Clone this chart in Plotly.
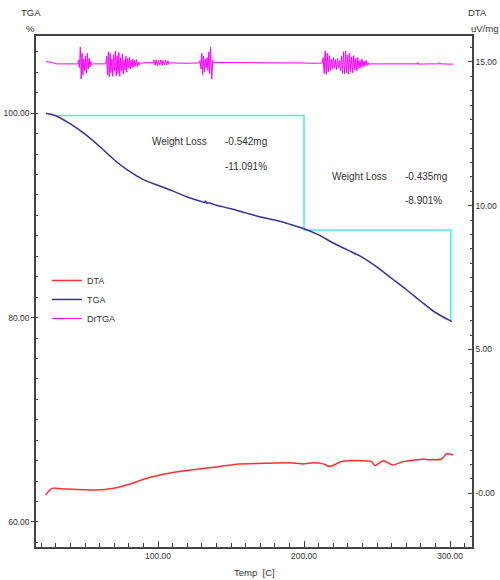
import plotly.graph_objects as go

# ---------------- data ----------------
tga_temp = [23.2, 30, 40, 50, 60, 70, 80, 90, 100, 110, 120, 130, 132.0, 132.6, 133.2, 134.0,
            140, 150, 160, 170, 180, 190, 200, 210, 220, 230, 240, 250, 260, 270, 280, 290, 301.4]
tga_val = [100.0, 99.75, 98.95, 97.95, 96.75, 95.45, 94.35, 93.5, 92.95, 92.4, 91.8, 91.35, 91.27, 91.40,
           91.20, 91.24, 91.0, 90.65, 90.25, 89.85, 89.55, 89.15, 88.7, 88.1, 87.3, 86.6, 85.9,
           84.95, 83.85, 82.75, 81.6, 80.5, 79.6]

dta_temp = [23.1, 27.2, 35.1, 58.0, 69.4, 80.8, 92.3, 103.6, 119.7, 137.9, 153.9, 172.1, 190.4,
            199.5, 206.4, 213.2, 217.8, 225.8, 240.6, 246.4, 248.6, 254.3, 260.8, 268.0, 281.7,
            286.3, 294.3, 297.7, 302.3]
dta_val = [-0.06, 0.17, 0.15, 0.11, 0.17, 0.32, 0.52, 0.66, 0.79, 0.90, 1.01, 1.04, 1.06,
           1.02, 1.06, 1.02, 0.93, 1.10, 1.13, 1.10, 0.96, 1.13, 0.98, 1.10, 1.18,
           1.16, 1.19, 1.37, 1.33]

drtga_temp = [
    23.2, 25.0, 27.0, 29.0, 30.6, 35.0, 40.0, 44.4,
    45.0, 45.6, 46.2, 46.8, 47.4, 48.0, 48.6, 49.2, 49.8, 50.4, 51.0, 51.6, 52.2, 52.8, 53.4, 54.0, 54.6, 55.2,
    58.0, 61.0, 63.6,
    64.2, 64.8, 65.4, 66.0, 66.6, 67.2, 67.8, 68.4, 69.0, 69.6, 70.2, 70.8, 71.4, 72.0, 72.6, 73.2, 73.8,
    74.4, 75.0, 75.6, 76.2, 76.8, 77.4, 78.0, 78.6, 79.2, 79.8, 80.4, 81.0, 81.6, 82.2, 82.8, 83.4, 84.0,
    84.6, 85.2, 85.8, 86.4, 87.0, 87.6, 88.2,
    91.0, 94.0, 96.4,
    97.2, 98.0, 98.8, 99.6, 100.4, 101.2, 102.0, 102.8, 103.6, 104.4, 105.2, 106.0, 106.8, 107.6, 108.4,
    112.0, 116.0, 120.0, 124.0, 128.2,
    128.8, 129.4, 130.0, 130.6, 131.2, 131.8, 132.4, 133.0, 133.6, 134.2, 134.8, 135.4, 136.0, 136.8,
    137.5, 138.1, 138.7,
    142.0, 150.0, 160.0, 170.0, 180.0, 190.0, 200.0, 207.0, 212.4,
    213.1, 213.8, 214.5, 215.2, 215.9, 216.6, 217.3, 218.0, 218.7, 219.4, 220.1, 220.8, 221.5, 222.2,
    222.9, 223.6, 224.3, 225.0, 225.7, 226.4, 227.1, 227.8, 228.5, 229.2, 229.9, 230.6, 231.3, 232.0,
    232.7, 233.4, 234.1, 234.8, 235.5, 236.2, 236.9, 237.6, 238.3, 239.0, 239.7, 240.4, 241.1, 241.8,
    242.5, 243.2, 243.9, 244.6, 245.3,
    250.0, 260.0, 270.0, 277.5, 278.0, 278.5, 285.0, 292.5, 293.0, 293.5, 302.2]
drtga_val = [
    15.01, 15.01, 14.99, 14.95, 14.93, 14.93, 14.92, 14.93,
    14.93, 15.05, 14.80, 15.52, 14.41, 15.30, 14.55, 15.10, 14.70, 15.20, 14.60, 15.30, 14.75, 15.12, 14.82, 15.02, 14.90, 14.93,
    14.92, 14.93, 14.93,
    14.93, 15.20, 14.55, 15.35, 14.48, 15.30, 14.62, 15.10, 14.50, 15.25, 14.70, 15.38, 14.52, 15.22, 14.60, 15.33, 14.50,
    15.15, 14.68, 15.28, 14.58, 15.05, 14.72, 15.20, 14.64, 15.12, 14.80, 15.15, 14.75, 15.05, 14.80, 15.10, 14.82, 15.05,
    14.85, 15.08, 14.84, 15.00, 14.88, 14.97, 14.95,
    14.97, 14.98, 14.97,
    15.07, 14.88, 15.08, 14.87, 15.05, 14.89, 15.07, 14.88, 15.05, 14.90, 15.06, 14.89, 15.04, 14.91, 14.97,
    14.96, 14.96, 14.95, 14.96, 14.96,
    15.05, 14.75, 15.30, 14.55, 15.20, 14.65, 15.10, 14.80, 15.15, 14.70, 15.35, 14.60, 15.52, 14.40,
    15.05, 14.97, 14.98,
    14.98, 14.97, 14.96, 14.97, 14.96, 14.96, 14.96, 14.95, 14.96,
    15.15, 14.60, 15.38, 14.57, 15.30, 14.65, 15.22, 14.70, 15.10, 14.75, 15.15, 14.78, 15.08, 14.72,
    15.12, 14.80, 15.05, 14.70, 15.20, 14.60, 15.35, 14.58, 15.38, 14.62, 15.25, 14.57, 15.30, 14.66,
    15.18, 14.62, 15.22, 14.72, 15.12, 14.68, 15.15, 14.78, 15.05, 14.80, 15.10, 14.82, 15.03, 14.85,
    15.05, 14.88, 14.98, 14.90, 14.93,
    14.93, 14.92, 14.94, 14.93, 14.98, 14.92, 14.93, 14.93, 14.98, 14.93, 14.92]

# weight-loss step construction lines (cyan)
step_temp = [30.5, 200.0, 200.0, 300.5, 300.5]
step_val = [99.77, 99.77, 88.58, 88.58, 79.77]

x_ticks = [100, 200, 300]
y_ticks = [60, 80, 100]
y2_ticks = [0, 5, 10, 15]
y2_ticktext = ["-0.00", "5.00", "10.00", "15.00"]

# ---------------- figure ----------------
FONT = "Liberation Sans, Arial, sans-serif"
AX = "#444444"
TXT = "#333333"
TICKFONT = dict(family=FONT, size=8.5, color=TXT)

fig = go.Figure()
fig.add_trace(go.Scatter(x=step_temp, y=step_val, mode="lines", yaxis="y",
                         line=dict(color="#3ff0f8", width=1.5), showlegend=False, hoverinfo="skip"))
fig.add_trace(go.Scatter(x=dta_temp, y=dta_val, mode="lines", name="DTA", yaxis="y2",
                         line=dict(color="#ff3030", width=1.5, shape="spline", smoothing=0.6)))
fig.add_trace(go.Scatter(x=tga_temp, y=tga_val, mode="lines", name="TGA", yaxis="y",
                         line=dict(color="#33339a", width=1.5, shape="spline", smoothing=0.8)))
fig.add_trace(go.Scatter(x=drtga_temp, y=drtga_val, mode="lines", name="DrTGA", yaxis="y2",
                         line=dict(color="#ff00ff", width=1)))

fig.update_layout(
    width=500, height=580,
    margin=dict(l=36, r=28, t=36, b=33, autoexpand=False),
    plot_bgcolor="white", paper_bgcolor="white",
    font=dict(family=FONT, size=9, color=TXT),
    xaxis=dict(range=[16.44, 315.07], tickvals=x_ticks, tickformat=".2f", tickfont=TICKFONT,
               ticks="inside", ticklen=6, tickcolor=AX, showgrid=False, zeroline=False,
               showline=True, linecolor=AX, linewidth=1.5, mirror=True,
               minor=dict(dtick=10, tick0=0, ticks="inside", ticklen=4, tickcolor=AX, showgrid=False),
               automargin=False),
    yaxis=dict(range=[57.55, 107.56], tickvals=y_ticks, tickformat=".2f", tickfont=TICKFONT,
               ticks="outside", ticklen=3, tickcolor=AX, showgrid=False, zeroline=False,
               showline=True, linecolor=AX, linewidth=1.5,
               minor=dict(dtick=2, tick0=0, ticks="inside", ticklen=2, tickcolor=AX, showgrid=False),
               automargin=False),
    yaxis2=dict(range=[-1.87, 15.90], overlaying="y", side="right",
                tickvals=y2_ticks, ticktext=y2_ticktext, tickfont=TICKFONT,
                ticks="inside", ticklen=4, tickcolor=AX, showgrid=False, zeroline=False,
                showline=True, linecolor=AX, linewidth=1.5,
                minor=dict(dtick=0.5, tick0=0, ticks="inside", ticklen=2, tickcolor=AX, showgrid=False),
                automargin=False),
    legend=dict(x=0.025, y=0.55, xanchor="left", yanchor="top", bgcolor="rgba(0,0,0,0)",
                font=dict(family=FONT, size=9, color=TXT), traceorder="normal"),
)

ann = dict(showarrow=False, font=dict(family=FONT, size=10, color=TXT))
fig.add_annotation(x=94.5, y=97.22, xref="x", yref="y", text="Weight Loss", xanchor="left", **ann)
fig.add_annotation(x=144.5, y=97.22, xref="x", yref="y", text="-0.542mg", xanchor="left", **ann)
fig.add_annotation(x=144.5, y=94.78, xref="x", yref="y", text="-11.091%", xanchor="left", **ann)
fig.add_annotation(x=217.8, y=93.77, xref="x", yref="y", text="Weight Loss", xanchor="left", **ann)
fig.add_annotation(x=267.8, y=93.77, xref="x", yref="y", text="-0.435mg", xanchor="left", **ann)
fig.add_annotation(x=267.8, y=91.45, xref="x", yref="y", text="-8.901%", xanchor="left", **ann)

lab = dict(showarrow=False, xref="paper", yref="paper", font=dict(family=FONT, size=9.5, color=TXT))
fig.add_annotation(x=(31 - 36) / 436, y=1 + (36 - 13) / 511, text="TGA", xanchor="center", yanchor="middle", **lab)
fig.add_annotation(x=(30 - 36) / 436, y=1 + (36 - 29) / 511, text="%", xanchor="center", yanchor="middle", **lab)
fig.add_annotation(x=(477 - 36) / 436, y=1 + (36 - 13) / 511, text="DTA", xanchor="center", yanchor="middle", **lab)
fig.add_annotation(x=(484 - 36) / 436, y=1 + (36 - 29) / 511, text="uV/mg", xanchor="center", yanchor="middle", **lab)
fig.add_annotation(x=0.5, y=(547 - 572) / 511, text="Temp  [C]", xanchor="center", yanchor="middle", **lab)

fig.write_html("out.html")
